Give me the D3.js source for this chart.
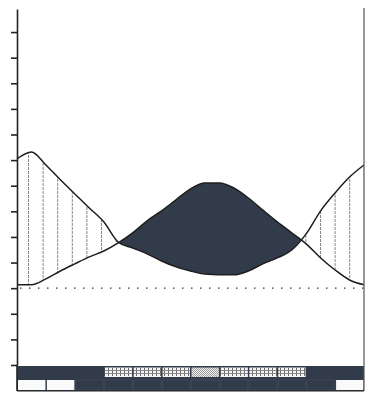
<!DOCTYPE html>
<html>
<head>
<meta charset="utf-8">
<script src="https://cdn.jsdelivr.net/npm/d3@7"></script>
<style>
  html, body { margin: 0; padding: 0; background: #fff; }
  svg { display: block; }
</style>
</head>
<body>
<svg id="chart" width="366" height="394"></svg>
<script>
// Semi-monthly sample positions (in months, 0 = start of January)
const monthPos = [0, 0.5, 1, 1.5, 2, 2.5, 3, 3.5, 4, 4.5, 5, 5.5, 6, 6.5, 7, 7.5, 8, 8.5, 9, 9.5, 10, 10.5, 11, 11.5, 12];
// Series A: high in winter, low in summer
const seriesA = [8.05, 8.32, 7.81, 7.23, 6.68, 6.13, 5.59, 4.80, 4.57, 4.34, 4.06, 3.83, 3.67, 3.55, 3.52, 3.52, 3.67, 3.95, 4.18, 4.49, 5.12, 6.02, 6.72, 7.34, 7.81];
// Series B: low in winter, high in summer
const seriesB = [3.13, 3.13, 3.36, 3.67, 3.95, 4.22, 4.45, 4.77, 5.16, 5.63, 6.02, 6.45, 6.88, 7.11, 7.11, 6.91, 6.52, 6.05, 5.59, 5.16, 4.73, 4.18, 3.71, 3.32, 3.13];
// Reference level drawn as a dotted line
const refLevel = 3;
// Y tick values
const yTicks = [0, 1, 2, 3, 4, 5, 6, 7, 8, 9, 10, 11, 12, 13];
// Month strip: top row ("h" = hatched, "s" = stippled, "" = none), bottom row (1 = open)
const months = ["Jan", "Feb", "Mar", "Apr", "May", "Jun", "Jul", "Aug", "Sep", "Oct", "Nov", "Dec"];
const stripTop = ["", "", "", "h", "h", "h", "s", "h", "h", "h", "", ""];
const stripBottom = [1, 1, 0, 0, 0, 0, 0, 0, 0, 0, 0, 1];

const svg = d3.select("#chart");
const dark = "#323b4a";

const x = d3.scaleLinear().domain([0, 12]).range([17, 364]);
const y = d3.scaleLinear().domain([0, 13.9]).range([365, 9]);

const data = monthPos.map((m, i) => ({ m, a: seriesA[i], b: seriesB[i] }));
const curve = d3.curveMonotoneX;

const defs = svg.append("defs");

// Vertical hatch for the band where A lies above B
const hatch = defs.append("pattern")
  .attr("id", "vhatch")
  .attr("patternUnits", "userSpaceOnUse")
  .attr("x", 28).attr("y", 0)
  .attr("width", 14.6).attr("height", 4);
hatch.append("line")
  .attr("x1", 0.5).attr("x2", 0.5).attr("y1", 0).attr("y2", 4)
  .attr("stroke", "#858585").attr("stroke-width", 1)
  .attr("stroke-dasharray", "2,1");

// Grid pattern for strip cells
const grid = defs.append("pattern")
  .attr("id", "grid")
  .attr("patternUnits", "userSpaceOnUse")
  .attr("x", 0).attr("y", 367)
  .attr("width", 4).attr("height", 10);
grid.append("rect").attr("width", 4).attr("height", 10).attr("fill", "#f4f4f4");
grid.append("line").attr("x1", 0.5).attr("x2", 0.5).attr("y1", 1).attr("y2", 9)
  .attr("stroke", "#6a6a6a").attr("stroke-width", 1);
grid.append("line").attr("x1", 0).attr("x2", 4).attr("y1", 3.5).attr("y2", 3.5)
  .attr("stroke", "#8a8a8a").attr("stroke-width", 1);
grid.append("line").attr("x1", 0).attr("x2", 4).attr("y1", 6.5).attr("y2", 6.5)
  .attr("stroke", "#8a8a8a").attr("stroke-width", 1);

// Stipple pattern
const stip = defs.append("pattern")
  .attr("id", "stip")
  .attr("patternUnits", "userSpaceOnUse")
  .attr("width", 2).attr("height", 2);
stip.append("rect").attr("width", 2).attr("height", 2).attr("fill", "#f2f2f2");
stip.append("rect").attr("width", 1).attr("height", 1).attr("fill", "#9a9a9a");
stip.append("rect").attr("x", 1).attr("y", 1).attr("width", 1).attr("height", 1).attr("fill", "#9a9a9a");

// Clip regions above / below series B
defs.append("clipPath").attr("id", "aboveB").append("path")
  .attr("d", d3.area().curve(curve).x(d => x(d.m)).y0(0).y1(d => y(d.b))(data));
defs.append("clipPath").attr("id", "belowB").append("path")
  .attr("d", d3.area().curve(curve).x(d => x(d.m)).y0(394).y1(d => y(d.b))(data));

const band = d3.area().curve(curve).x(d => x(d.m)).y0(d => y(d.a)).y1(d => y(d.b));

svg.append("path").attr("d", band(data))
  .attr("fill", "url(#vhatch)").attr("clip-path", "url(#aboveB)");
svg.append("path").attr("d", band(data))
  .attr("fill", dark).attr("clip-path", "url(#belowB)");

// Dotted reference line
svg.append("line")
  .attr("x1", x(0) + 3).attr("x2", x(12))
  .attr("y1", y(refLevel)).attr("y2", y(refLevel))
  .attr("stroke", "#333").attr("stroke-width", 1.3)
  .attr("stroke-dasharray", "1.5,7.5");

// Series lines
const lineA = d3.line().curve(curve).x(d => x(d.m)).y(d => y(d.a));
const lineB = d3.line().curve(curve).x(d => x(d.m)).y(d => y(d.b));
svg.append("path").attr("d", lineA(data)).attr("fill", "none").attr("stroke", "#1e1e1e").attr("stroke-width", 1.5);
svg.append("path").attr("d", lineB(data)).attr("fill", "none").attr("stroke", "#1e1e1e").attr("stroke-width", 1.5);

// Month strip
const cells = months.map((name, i) => ({ name, i, top: stripTop[i], open: stripBottom[i] }));
const stripG = svg.append("g");
stripG.append("rect")
  .attr("x", x(0)).attr("y", 366).attr("width", x(12) - x(0)).attr("height", 25)
  .attr("fill", dark);
stripG.selectAll("rect.top").data(cells.filter(c => c.top !== "")).join("rect")
  .attr("class", "top")
  .attr("x", c => x(c.i) + 1)
  .attr("y", 367.5)
  .attr("width", c => x(c.i + 1) - x(c.i) - 1.5)
  .attr("height", 9.5)
  .attr("fill", c => c.top === "s" ? "url(#stip)" : "url(#grid)");
stripG.selectAll("rect.bot").data(cells).join("rect")
  .attr("class", "bot")
  .attr("x", c => x(c.i) + 1)
  .attr("y", 380)
  .attr("width", c => x(c.i + 1) - x(c.i) - 1.5)
  .attr("height", 10)
  .attr("fill", c => c.open ? "#fafafa" : "none")
  .attr("stroke", c => c.open ? "none" : "#404a58")
  .attr("stroke-width", 0.8);

// Left axis
const axisG = svg.append("g").attr("transform", `translate(${x(0)},0)`)
  .call(d3.axisLeft(y).tickValues(yTicks).tickSize(6).tickSizeOuter(0).tickFormat(""));
axisG.selectAll("path, line").attr("stroke", "#222").attr("stroke-width", 1.6);
svg.append("line").attr("x1", x(0)).attr("x2", x(0)).attr("y1", y(0)).attr("y2", 391)
  .attr("stroke", "#222").attr("stroke-width", 1.6);

// Right frame line
svg.append("line").attr("x1", x(12)).attr("x2", x(12)).attr("y1", 8).attr("y2", 391)
  .attr("stroke", "#555").attr("stroke-width", 1.2);
// Bottom frame line
svg.append("line").attr("x1", x(0)).attr("x2", x(12)).attr("y1", 391).attr("y2", 391)
  .attr("stroke", "#222").attr("stroke-width", 1.2);
</script>
</body>
</html>
